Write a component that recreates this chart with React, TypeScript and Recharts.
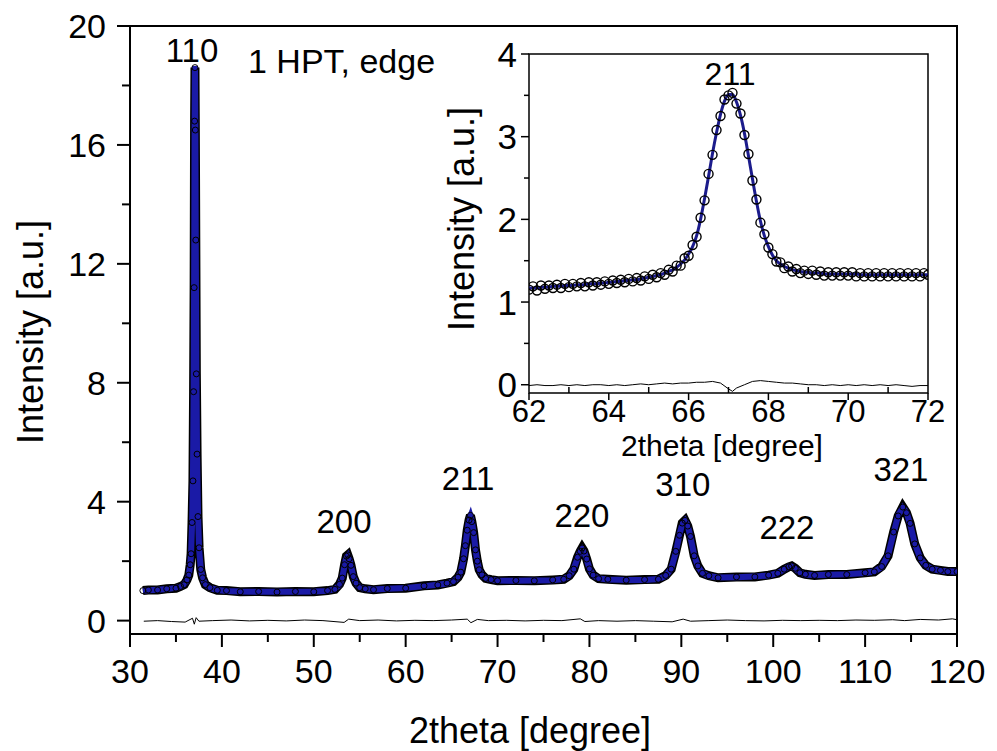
import React from 'react';
import { ComposedChart, Line, Scatter, XAxis, YAxis, ReferenceArea } from 'recharts';

const FONT = '"Liberation Sans", Arial, Helvetica, sans-serif';

// ---------------- main pattern ----------------
const mainTheta = [31.4, 32.0, 33.0, 34.0, 35.0, 35.5, 35.9, 36.2, 36.4, 36.55, 36.65, 36.75, 36.85, 36.92, 36.98, 37.03, 37.07, 37.11, 37.16, 37.22, 37.3, 37.4, 37.52, 37.7, 37.9, 38.2, 38.7, 39.5, 40.5, 42, 44, 46, 48, 50, 51.5, 52.3, 52.8, 53.1, 53.35, 53.55, 53.7, 53.85, 54.05, 54.3, 54.6, 55.0, 55.6, 56.5, 58, 60, 62, 63.5, 64.5, 65.2, 65.7, 66.0, 66.3, 66.5, 66.7, 66.9, 67.05, 67.2, 67.4, 67.6, 67.8, 68.0, 68.3, 68.7, 69.3, 70, 72, 74, 76, 77.2, 77.8, 78.3, 78.7, 79.0, 79.2, 79.4, 79.7, 80.0, 80.4, 81.0, 82, 84, 86, 87.5, 88.3, 88.9, 89.4, 89.8, 90.1, 90.4, 90.7, 91.0, 91.4, 91.8, 92.3, 93.0, 94, 96, 98, 99.5, 100.5, 101.2, 101.7, 102.0, 102.4, 102.9, 103.5, 104.5, 106, 108, 110, 111, 111.8, 112.5, 113.1, 113.6, 114.1, 114.5, 114.9, 115.4, 116.0, 116.6, 117.3, 118.2, 119.0, 120.0];
const mainCalc = [1.00, 1.02, 1.04, 1.06, 1.10, 1.14, 1.22, 1.35, 1.55, 1.85, 2.3, 3.2, 4.8, 7.5, 11.5, 16.5, 18.65, 16.8, 12.5, 8.5, 5.5, 3.6, 2.4, 1.75, 1.42, 1.22, 1.10, 1.03, 1.00, 0.98, 0.97, 0.97, 0.97, 0.98, 1.00, 1.06, 1.20, 1.45, 1.85, 2.15, 2.20, 2.10, 1.85, 1.50, 1.25, 1.12, 1.06, 1.05, 1.07, 1.10, 1.16, 1.21, 1.25, 1.32, 1.45, 1.65, 2.05, 2.55, 3.00, 3.40, 3.52, 3.36, 2.93, 2.40, 1.98, 1.72, 1.53, 1.43, 1.37, 1.35, 1.34, 1.35, 1.36, 1.40, 1.50, 1.75, 2.10, 2.35, 2.42, 2.35, 2.05, 1.75, 1.52, 1.42, 1.38, 1.37, 1.37, 1.40, 1.50, 1.75, 2.30, 2.90, 3.25, 3.36, 3.20, 2.80, 2.20, 1.82, 1.60, 1.50, 1.45, 1.46, 1.48, 1.52, 1.60, 1.72, 1.82, 1.83, 1.75, 1.62, 1.55, 1.53, 1.54, 1.56, 1.60, 1.65, 1.80, 2.20, 2.95, 3.55, 3.80, 3.65, 3.25, 2.60, 2.10, 1.85, 1.74, 1.68, 1.66, 1.64];
const mainObs = [1.01, 1.03, 1.03, 1.07, 1.09, 1.15, 1.21, 1.37, 1.53, 1.88, 2.25, 3.3, 4.7, 7.7, 11.2, 16.8, 18.6, 16.5, 12.8, 8.3, 5.6, 3.5, 2.45, 1.72, 1.44, 1.21, 1.11, 1.02, 1.01, 0.97, 0.98, 0.96, 0.98, 0.97, 1.01, 1.05, 1.22, 1.43, 1.88, 2.17, 2.21, 2.08, 1.86, 1.48, 1.26, 1.11, 1.07, 1.04, 1.08, 1.09, 1.17, 1.20, 1.26, 1.31, 1.46, 1.63, 2.08, 2.52, 3.04, 3.38, 3.54, 3.33, 2.96, 2.38, 2.00, 1.71, 1.54, 1.42, 1.38, 1.34, 1.35, 1.34, 1.37, 1.39, 1.51, 1.73, 2.13, 2.33, 2.44, 2.34, 2.07, 1.74, 1.53, 1.41, 1.39, 1.36, 1.38, 1.39, 1.52, 1.73, 2.33, 2.87, 3.28, 3.37, 3.18, 2.83, 2.18, 1.84, 1.59, 1.51, 1.44, 1.47, 1.47, 1.53, 1.59, 1.73, 1.81, 1.84, 1.76, 1.61, 1.56, 1.52, 1.55, 1.55, 1.61, 1.64, 1.82, 2.18, 2.98, 3.52, 3.82, 3.63, 3.27, 2.58, 2.11, 1.86, 1.73, 1.69, 1.65, 1.65];
const mainDiffTheta = [31.5, 33, 34.5, 36, 36.8, 37.0, 37.2, 37.5, 39, 41, 43, 45, 47, 49, 51, 53.3, 53.8, 55, 57, 59, 61, 63, 65, 66.7, 67.1, 67.8, 69, 71, 73, 75, 77, 79, 79.5, 81, 83, 85, 87, 89, 90.2, 91, 93, 95, 97, 99, 101, 103, 105, 107, 109, 111, 113, 114.3, 116, 118, 119.5, 120];
const mainDiff = [-0.02, 0.0, -0.03, -0.05, 0.08, -0.12, 0.1, -0.02, 0.0, 0.02, -0.01, 0.01, -0.01, 0.02, 0.0, -0.06, 0.05, 0.0, 0.02, -0.01, 0.01, 0.0, 0.02, 0.05, -0.07, 0.04, 0.0, 0.01, -0.01, 0.01, 0.0, 0.06, -0.03, 0.0, -0.02, 0.0, -0.02, -0.04, 0.05, -0.02, 0.0, 0.02, 0.0, -0.01, 0.01, 0.0, 0.01, 0.0, 0.02, 0.01, 0.03, 0.0, 0.04, 0.02, 0.06, 0.03];

const mainXTicks = [30, 35, 40, 45, 50, 55, 60, 65, 70, 75, 80, 85, 90, 95, 100, 105, 110, 115, 120];
const mainXMajor = [30, 40, 50, 60, 70, 80, 90, 100, 110, 120];
const mainYTicks = [0, 2, 4, 6, 8, 10, 12, 14, 16, 18, 20];
const mainYMajor = [0, 4, 8, 12, 16, 20];

const peakNames = ['110', '200', '211', '220', '310', '222', '321'];
const peakLabelTheta = [36.75, 53.29, 66.78, 79.18, 90.17, 101.49, 113.9];
const peakLabelIntensity = [18.79, 2.95, 4.40, 3.15, 4.19, 2.75, 4.70];
const sampleName = ['1 HPT, edge'];
const sampleNameTheta = [42.84];
const sampleNameIntensity = [18.42];

// ---------------- inset (211) ----------------
const insetTheta = [62.0, 62.1, 62.2, 62.3, 62.4, 62.5, 62.6, 62.7, 62.8, 62.9, 63.0, 63.1, 63.2, 63.3, 63.4, 63.5, 63.6, 63.7, 63.8, 63.9, 64.0, 64.1, 64.2, 64.3, 64.4, 64.5, 64.6, 64.7, 64.8, 64.9, 65.0, 65.1, 65.2, 65.3, 65.4, 65.5, 65.6, 65.7, 65.8, 65.9, 66.0, 66.1, 66.2, 66.3, 66.4, 66.5, 66.6, 66.7, 66.8, 66.9, 67.0, 67.1, 67.2, 67.3, 67.4, 67.5, 67.6, 67.7, 67.8, 67.9, 68.0, 68.1, 68.2, 68.3, 68.4, 68.5, 68.6, 68.7, 68.8, 68.9, 69.0, 69.1, 69.2, 69.3, 69.4, 69.5, 69.6, 69.7, 69.8, 69.9, 70.0, 70.1, 70.2, 70.3, 70.4, 70.5, 70.6, 70.7, 70.8, 70.9, 71.0, 71.1, 71.2, 71.3, 71.4, 71.5, 71.6, 71.7, 71.8, 71.9, 72.0];
const insetCalc = [1.17, 1.17, 1.17, 1.18, 1.18, 1.18, 1.19, 1.19, 1.19, 1.20, 1.20, 1.20, 1.21, 1.21, 1.21, 1.22, 1.22, 1.22, 1.23, 1.23, 1.24, 1.24, 1.25, 1.25, 1.26, 1.26, 1.27, 1.27, 1.28, 1.29, 1.30, 1.31, 1.32, 1.33, 1.35, 1.37, 1.39, 1.42, 1.46, 1.51, 1.58, 1.67, 1.80, 2.00, 2.25, 2.52, 2.80, 3.05, 3.27, 3.43, 3.51, 3.51, 3.42, 3.26, 3.04, 2.77, 2.49, 2.22, 1.98, 1.80, 1.67, 1.57, 1.50, 1.46, 1.43, 1.41, 1.39, 1.38, 1.37, 1.36, 1.36, 1.35, 1.35, 1.35, 1.34, 1.34, 1.34, 1.34, 1.34, 1.34, 1.34, 1.34, 1.34, 1.33, 1.33, 1.33, 1.33, 1.33, 1.33, 1.33, 1.33, 1.33, 1.33, 1.33, 1.33, 1.33, 1.33, 1.33, 1.33, 1.33, 1.33];
const insetObs = [1.15, 1.19, 1.14, 1.20, 1.16, 1.20, 1.17, 1.21, 1.17, 1.22, 1.18, 1.22, 1.19, 1.23, 1.19, 1.24, 1.20, 1.24, 1.21, 1.25, 1.22, 1.26, 1.23, 1.27, 1.24, 1.28, 1.25, 1.29, 1.26, 1.31, 1.28, 1.33, 1.30, 1.35, 1.33, 1.39, 1.37, 1.44, 1.44, 1.53, 1.56, 1.69, 1.79, 2.02, 2.23, 2.55, 2.78, 3.08, 3.25, 3.45, 3.50, 3.53, 3.40, 3.28, 3.02, 2.79, 2.47, 2.24, 1.96, 1.82, 1.66, 1.58, 1.49, 1.48, 1.41, 1.43, 1.37, 1.40, 1.35, 1.38, 1.34, 1.38, 1.33, 1.37, 1.32, 1.36, 1.32, 1.36, 1.32, 1.36, 1.32, 1.36, 1.31, 1.35, 1.31, 1.35, 1.31, 1.35, 1.31, 1.35, 1.31, 1.35, 1.31, 1.35, 1.31, 1.35, 1.31, 1.35, 1.31, 1.35, 1.33];
const insetDiffTheta = [62.0, 62.2, 62.4, 62.6, 62.8, 63.0, 63.2, 63.4, 63.6, 63.8, 64.0, 64.2, 64.4, 64.6, 64.8, 65.0, 65.2, 65.4, 65.6, 65.8, 66.0, 66.2, 66.4, 66.6, 66.8, 67.0, 67.1, 67.2, 67.4, 67.6, 67.8, 68.0, 68.2, 68.4, 68.6, 68.8, 69.0, 69.2, 69.4, 69.6, 69.8, 70.0, 70.2, 70.4, 70.6, 70.8, 71.0, 71.2, 71.4, 71.6, 71.8, 72.0];
const insetDiff = [-0.01, 0.0, -0.01, -0.01, 0.0, -0.01, 0.0, -0.01, 0.0, 0.0, -0.01, 0.0, -0.01, 0.0, 0.01, 0.0, 0.01, 0.02, 0.01, 0.02, 0.02, 0.03, 0.03, 0.04, 0.02, -0.05, -0.08, -0.04, 0.0, 0.04, 0.05, 0.04, 0.03, 0.02, 0.02, 0.01, 0.0, 0.0, -0.01, 0.0, -0.01, 0.0, -0.01, 0.0, -0.01, 0.0, -0.01, 0.0, -0.01, -0.02, -0.01, -0.01];

const insetXTicks = [62, 63, 64, 65, 66, 67, 68, 69, 70, 71, 72];
const insetXMajor = [62, 64, 66, 68, 70, 72];
const insetYTicks = [0, 0.5, 1, 1.5, 2, 2.5, 3, 3.5, 4];
const insetYMajor = [0, 1, 2, 3, 4];
const insetPeakName = ['211'];
const insetPeakTheta = [67.04];
const insetPeakIntensity = [3.62];

const rows = (xs: number[], ys: number[]) => xs.map((x, i) => ({ x, y: ys[i] }));
const labelRows = (names: string[], xs: number[], ys: number[]) => names.map((name, i) => ({ name, x: xs[i], y: ys[i] }));

// minorLen < 0 draws the minor tick inwards
const makeXTick = (majors: number[], majorLen: number, minorLen: number, fontSize: number, gap: number, sw: number) => (props: any) => {
  const { x, y, payload } = props;
  const v = payload.value;
  const isMajor = majors.includes(v);
  return (
    <g>
      <line x1={x} y1={y} x2={x} y2={y + (isMajor ? majorLen : minorLen)} stroke="#000" strokeWidth={sw} />
      {isMajor && (
        <text x={x} y={y + gap} textAnchor="middle" fontSize={fontSize} fontFamily={FONT} fill="#000">{v}</text>
      )}
    </g>
  );
};

const makeYTick = (majors: number[], majorLen: number, minorLen: number, fontSize: number, gap: number, sw: number) => (props: any) => {
  const { x, y, payload } = props;
  const v = payload.value;
  const isMajor = majors.includes(v);
  return (
    <g>
      <line x1={x} y1={y} x2={x - (isMajor ? majorLen : minorLen)} y2={y} stroke="#000" strokeWidth={sw} />
      {isMajor && (
        <text x={x - gap} y={y + fontSize * 0.36} textAnchor="end" fontSize={fontSize} fontFamily={FONT} fill="#000">{v}</text>
      )}
    </g>
  );
};

const textShape = (fontSize: number, anchor: 'start' | 'middle' | 'end') => (props: any) => (
  <text x={props.cx} y={props.cy} textAnchor={anchor} fontSize={fontSize} fontFamily={FONT} fill="#000">{props.payload.name}</text>
);

const mainCircle = (props: any) => (
  <circle cx={props.cx} cy={props.cy} r={3} fill="none" stroke="#000" strokeWidth={1} />
);
const insetCircle = (props: any) => (
  <circle cx={props.cx} cy={props.cy} r={4.5} fill="none" stroke="#000" strokeWidth={1.4} />
);

export default function App() {
  const mainCalcRows = rows(mainTheta, mainCalc);
  const mainObsRows = rows(mainTheta, mainObs);
  const mainDiffRows = rows(mainDiffTheta, mainDiff);
  const mainLabels = labelRows(peakNames, peakLabelTheta, peakLabelIntensity);
  const titleLabel = labelRows(sampleName, sampleNameTheta, sampleNameIntensity);

  const insetCalcRows = rows(insetTheta, insetCalc);
  const insetObsRows = rows(insetTheta, insetObs);
  const insetDiffRows = rows(insetDiffTheta, insetDiff);
  const insetLabels = labelRows(insetPeakName, insetPeakTheta, insetPeakIntensity);

  return (
    <div style={{ position: 'absolute', left: 0, top: 0, width: 997, height: 751, background: '#fff', overflow: 'hidden' }}>
      <div style={{ position: 'absolute', left: 0, top: 0 }}>
        <ComposedChart width={997} height={751} margin={{ top: 26, right: 40, bottom: 116, left: 129 }}>
          <XAxis
            type="number"
            dataKey="x"
            domain={[30, 120]}
            ticks={mainXTicks}
            interval={0}
            allowDataOverflow
            height={1}
            tickSize={0}
            tickMargin={0}
            tickLine={false}
            axisLine={false}
            tick={makeXTick(mainXMajor, 13, 8, 34, 49, 2)}
          />
          <YAxis
            type="number"
            dataKey="y"
            domain={[-0.45, 20]}
            ticks={mainYTicks}
            interval={0}
            allowDataOverflow
            width={1}
            tickSize={0}
            tickMargin={0}
            tickLine={false}
            axisLine={false}
            tick={makeYTick(mainYMajor, 13, 8, 34, 24, 2)}
          />
          <ReferenceArea x1={30} x2={120} y1={-0.45} y2={20} fill="none" stroke="#000" strokeWidth={2} />
          <Line data={mainDiffRows} dataKey="y" type="linear" stroke="#000" strokeWidth={1} dot={false} isAnimationActive={false} />
          <Line data={mainObsRows} dataKey="y" type="linear" stroke="#000" strokeWidth={9} dot={false} isAnimationActive={false} />
          <Scatter data={mainObsRows} dataKey="y" shape={mainCircle} isAnimationActive={false} />
          <Line data={mainCalcRows} dataKey="y" type="linear" stroke="#1a1aa6" strokeWidth={6} dot={false} isAnimationActive={false} />
          <Scatter data={mainLabels} dataKey="y" shape={textShape(33, 'middle')} isAnimationActive={false} />
          <Scatter data={titleLabel} dataKey="y" shape={textShape(34, 'start')} isAnimationActive={false} />
        </ComposedChart>
      </div>

      <div style={{ position: 'absolute', left: 430, top: 26, width: 520, height: 440 }}>
        <ComposedChart width={520} height={440} margin={{ top: 28, right: 22, bottom: 72, left: 98 }}>
          <XAxis
            type="number"
            dataKey="x"
            domain={[62, 72]}
            ticks={insetXTicks}
            interval={0}
            allowDataOverflow
            height={1}
            tickSize={0}
            tickMargin={0}
            tickLine={false}
            axisLine={false}
            tick={makeXTick(insetXMajor, 7, -6, 31, 29, 1.5)}
          />
          <YAxis
            type="number"
            dataKey="y"
            domain={[-0.1, 4]}
            ticks={insetYTicks}
            interval={0}
            allowDataOverflow
            width={1}
            tickSize={0}
            tickMargin={0}
            tickLine={false}
            axisLine={false}
            tick={makeYTick(insetYMajor, 8, 5, 35, 12, 1.5)}
          />
          <ReferenceArea x1={62} x2={72} y1={-0.1} y2={4} fill="none" stroke="#000" strokeWidth={1.5} />
          <Line data={insetDiffRows} dataKey="y" type="linear" stroke="#000" strokeWidth={1} dot={false} isAnimationActive={false} />
          <Scatter data={insetObsRows} dataKey="y" shape={insetCircle} isAnimationActive={false} />
          <Line data={insetCalcRows} dataKey="y" type="monotone" stroke="#1c1c8c" strokeWidth={3} dot={false} isAnimationActive={false} />
          <Scatter data={insetLabels} dataKey="y" shape={textShape(32, 'middle')} isAnimationActive={false} />
        </ComposedChart>
      </div>

      <svg width={997} height={751} style={{ position: 'absolute', left: 0, top: 0, pointerEvents: 'none' }}>
        <text x={530} y={743} textAnchor="middle" fontSize={36} fontFamily={FONT} fill="#000">2theta [degree]</text>
        <text x={43} y={332} transform="rotate(-90 43 332)" textAnchor="middle" fontSize={36} fontFamily={FONT} fill="#000">Intensity [a.u.]</text>
        <text x={722} y={456} textAnchor="middle" fontSize={30} fontFamily={FONT} fill="#000">2theta [degree]</text>
        <text x={474} y={219} transform="rotate(-90 474 219)" textAnchor="middle" fontSize={36} fontFamily={FONT} fill="#000">Intensity [a.u.]</text>
      </svg>
    </div>
  );
}
